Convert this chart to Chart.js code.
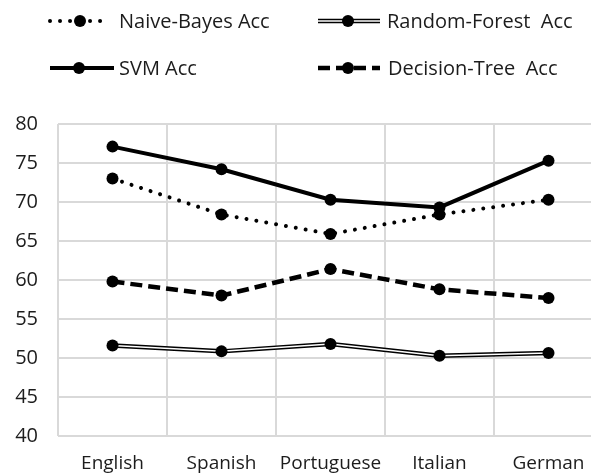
<!DOCTYPE html>
<html>
<head>
<meta charset="utf-8">
<script src="https://cdn.jsdelivr.net/npm/chart.js@4"></script>
<style>
  html, body { margin: 0; padding: 0; background: #fff; overflow: hidden; }
  #wrap { width: 620px; height: 475px; }
</style>
</head>
<body>
<div id="wrap"><canvas id="accChart" width="620" height="475"></canvas></div>
<script>
const languages = ["English", "Spanish", "Portuguese", "Italian", "German"];
const nbAcc = [73.0, 68.4, 65.9, 68.4, 70.3];
const rfAcc = [51.6, 50.85, 51.8, 50.3, 50.65];
const svmAcc = [77.1, 74.2, 70.3, 69.3, 75.3];
const dtAcc = [59.8, 58.0, 61.4, 58.8, 57.7];
const yMin = 40, yMax = 80, yStep = 5;

const FONT = "'Open Sans', sans-serif";
const INK = "#1c1c1c";

// legend entries: dataset index, sample line start/end, marker x, text x, row y
const legendItems = [
  { ds: 0, x0: 50, x1: 110, mx: 80, tx: 119, y: 21, text: "Naive-Bayes Acc" },
  { ds: 2, core: 1, x0: 318, x1: 380, mx: 348, tx: 387, y: 21, text: "Random-Forest  Acc" },
  { ds: 3, x0: 50, x1: 114, mx: 79, tx: 119, y: 68, text: "SVM Acc" },
  { ds: 4, x0: 318, x1: 380, mx: 348, tx: 388, y: 68, text: "Decision-Tree  Acc" }
];

function strokeSample(ctx, ds, item) {
  ctx.beginPath();
  ctx.setLineDash(ds.borderDash || []);
  ctx.lineCap = ds.borderCapStyle || "butt";
  ctx.lineWidth = ds.borderWidth;
  ctx.strokeStyle = ds.borderColor;
  ctx.moveTo(item.x0, item.y);
  ctx.lineTo(item.x1, item.y);
  ctx.stroke();
}

const legendPlugin = {
  id: "sampleLegend",
  afterDraw(chart) {
    const ctx = chart.ctx;
    ctx.save();
    legendItems.forEach(item => {
      strokeSample(ctx, chart.data.datasets[item.ds], item);
      // white core of the double line
      if (item.core !== undefined) strokeSample(ctx, chart.data.datasets[item.core], item);
      ctx.setLineDash([]);
      ctx.beginPath();
      ctx.fillStyle = "#000";
      ctx.arc(item.mx, item.y, 6, 0, Math.PI * 2);
      ctx.fill();
      ctx.fillStyle = INK;
      ctx.font = "20px " + FONT;
      ctx.textBaseline = "middle";
      ctx.textAlign = "left";
      ctx.fillText(item.text, item.tx, item.y + 1);
    });
    ctx.restore();
  }
};

new Chart(document.getElementById("accChart"), {
  type: "line",
  data: {
    labels: languages,
    datasets: [
      {
        label: "Naive-Bayes Acc",
        data: nbAcc,
        borderColor: "#000",
        borderWidth: 4,
        borderDash: [0.01, 10],
        borderCapStyle: "round",
        pointRadius: 6,
        pointBackgroundColor: "#000",
        pointBorderWidth: 0
      },
      {
        // white core, drawn above the black outer stroke below
        label: "Random-Forest Acc",
        data: rfAcc,
        borderColor: "#fff",
        borderWidth: 1.5,
        pointRadius: 6,
        pointBackgroundColor: "#000",
        pointBorderWidth: 0
      },
      {
        label: "Random-Forest Acc",
        data: rfAcc,
        borderColor: "#000",
        borderWidth: 4.5,
        pointRadius: 0
      },
      {
        label: "SVM Acc",
        data: svmAcc,
        borderColor: "#000",
        borderWidth: 4,
        pointRadius: 6,
        pointBackgroundColor: "#000",
        pointBorderWidth: 0
      },
      {
        label: "Decision-Tree Acc",
        data: dtAcc,
        borderColor: "#000",
        borderWidth: 4.5,
        borderDash: [12, 6],
        pointRadius: 6,
        pointBackgroundColor: "#000",
        pointBorderWidth: 0
      }
    ]
  },
  options: {
    responsive: false,
    animation: false,
    layout: { padding: { top: 124, right: 17, bottom: 0, left: 0 } },
    plugins: {
      legend: { display: false },
      tooltip: { enabled: false }
    },
    scales: {
      x: {
        offset: true,
        grid: { offset: true, color: "#d9d9d9", lineWidth: 2, drawTicks: false },
        border: { display: false },
        ticks: { color: INK, font: { family: FONT, size: 19 }, padding: 16, maxRotation: 0 },
        afterFit(scale) { scale.height = 39; }
      },
      y: {
        min: yMin,
        max: yMax,
        grid: { color: "#d9d9d9", lineWidth: 2, drawTicks: false },
        border: { display: false },
        ticks: { stepSize: yStep, color: INK, font: { family: FONT, size: 20 }, padding: 20 },
        afterFit(scale) { scale.width = 58; }
      }
    }
  },
  plugins: [legendPlugin]
});
</script>
</body>
</html>
